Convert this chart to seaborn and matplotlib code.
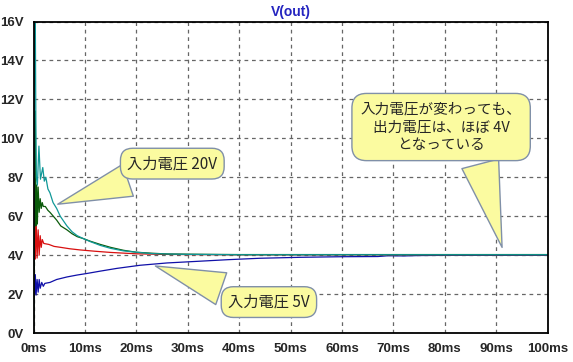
import matplotlib
matplotlib.use('Agg')
import matplotlib.pyplot as plt
import pandas as pd
import seaborn as sns

# V(out) traces (time in ms, volts)
t_teal = [0, 0.2, 0.35, 0.45, 0.55, 0.75, 1.05, 1.35, 1.8, 2.1, 2.4, 2.8, 3.2, 3.8, 4.5,
          5.2, 6.5, 7.5, 8.5, 9.7, 11, 13, 15, 17.5, 20, 23, 26, 30, 35, 40, 50, 60,
          70, 80, 90, 100]
v_teal = [0, 16, 16, 11, 8.0, 7.6, 9.6, 7.9, 8.5, 7.8, 8.0, 7.4, 7.2, 6.7, 6.4,
          6.0, 5.5, 5.2, 5.0, 4.85, 4.7, 4.5, 4.35, 4.22, 4.15, 4.08, 4.06, 4.04, 4.03,
          4.02, 4.02, 4.02, 4.02, 4.02, 4.02, 4.02]

t_green = [0, 0.15, 0.35, 0.45, 0.6, 0.75, 0.9, 1.1, 1.3, 1.5, 1.7, 1.9, 2.3, 2.8, 3.2,
           4.5, 5.3, 6.5, 7.5, 8.5, 9.7, 11, 13, 15, 17.5, 20, 23, 26, 30, 40, 50, 60,
           70, 80, 90, 100]
v_green = [0, 4.0, 11.4, 5.5, 7.6, 5.6, 7.5, 6.2, 6.9, 6.4, 6.7, 6.5, 6.5, 6.3, 6.2,
           5.8, 5.5, 5.3, 5.1, 4.95, 4.85, 4.72, 4.55, 4.4, 4.25, 4.15, 4.1, 4.06, 4.05,
           4.03, 4.03, 4.03, 4.03, 4.03, 4.03, 4.03]

t_red = [0, 0.2, 0.35, 0.5, 0.7, 0.9, 1.1, 1.3, 1.5, 1.7, 2.0, 3, 4, 5.3, 7, 9, 12,
         15, 17.8, 20, 25, 30, 40, 60, 80, 100]
v_red = [0, 8.0, 3.8, 5.9, 3.85, 5.3, 4.0, 5.0, 4.4, 4.8, 4.6, 4.55, 4.45, 4.4, 4.33,
         4.27, 4.2, 4.14, 4.1, 4.07, 4.04, 4.03, 4.02, 4.02, 4.02, 4.02]

t_blue = [0, 0.05, 0.2, 0.35, 0.5, 0.7, 0.9, 1.1, 1.3, 1.6, 1.9, 2.2, 3.2, 4.5, 6.5,
          8.5, 10.4, 13, 16.2, 20.7, 26, 32.4, 38, 44, 52, 60, 67, 69, 72, 75, 80, 100]
v_blue = [0.85, 3.8, 2.0, 3.0, 1.95, 2.75, 2.1, 2.75, 2.3, 2.6, 2.4, 2.55, 2.6, 2.75,
          2.88, 2.98, 3.06, 3.18, 3.32, 3.48, 3.6, 3.69, 3.77, 3.84, 3.89, 3.92, 3.93,
          3.97, 3.96, 3.98, 3.99, 3.99]

x_ticks = [0, 10, 20, 30, 40, 50, 60, 70, 80, 90, 100]
x_labels = [f'{t}ms' for t in x_ticks]
y_ticks = [0, 2, 4, 6, 8, 10, 12, 14, 16]
y_labels = [f'{v}V' for v in y_ticks]

palette = {'blue': '#1010a8', 'red': '#d81010', 'green': '#0a5a0a', 'teal': '#109898'}

frames = []
for name, tt, vv in [('blue', t_blue, v_blue), ('red', t_red, v_red),
                     ('green', t_green, v_green), ('teal', t_teal, v_teal)]:
	frames.append(pd.DataFrame({'time': tt, 'vout': vv, 'trace': name}))
df = pd.concat(frames, ignore_index=True)

sns.set_style('white')
plt.rcParams['font.family'] = ['Liberation Sans', 'Noto Sans CJK JP', 'DejaVu Sans']

fig = plt.figure(figsize=(5.73, 3.62), dpi=100)
ax = fig.add_axes([0.0585, 0.080, 0.897, 0.8606])

sns.lineplot(data=df, x='time', y='vout', hue='trace', palette=palette,
             hue_order=['blue', 'red', 'green', 'teal'], estimator=None, sort=False,
             linewidth=0.9, legend=False, ax=ax)

ax.set_xlim(0, 100)
ax.set_ylim(0, 16)
ax.set_xticks(x_ticks)
ax.set_xticklabels(x_labels, fontweight='bold', fontsize=9.5)
ax.set_yticks(y_ticks)
ax.set_yticklabels(y_labels, fontweight='bold', fontsize=9.5)
ax.set_xlabel('')
ax.set_ylabel('')
ax.tick_params(direction='out', length=5, width=1.2, color='black', pad=2)
ax.grid(True, linestyle=(0, (3, 3)), color='#666666', linewidth=0.9)
for spine in ax.spines.values():
	spine.set_color('black')
	spine.set_linewidth(1.3)
ax.set_title('V(out)', color='#2525c0', fontweight='bold', fontsize=10, pad=4)

box = dict(boxstyle='round,pad=0.45,rounding_size=0.8', fc='#fbfba0', ec='#8090a8', lw=1)
jp = ['Noto Sans CJK JP', 'DejaVu Sans']

ax.annotate('入力電圧 20V', xy=(4.2, 6.57), xytext=(27.0, 8.7), ha='center', va='center',
            fontsize=11, family=jp, bbox=box,
            arrowprops=dict(arrowstyle='wedge,tail_width=2.2,shrink_factor=0.5',
                            fc='#fbfba0', ec='#8090a8', lw=1, relpos=(0.3, 0.05)))
ax.annotate('入力電圧 5V', xy=(23.2, 3.49), xytext=(45.8, 1.59), ha='center', va='center',
            fontsize=11, family=jp, bbox=box,
            arrowprops=dict(arrowstyle='wedge,tail_width=2.2,shrink_factor=0.5',
                            fc='#fbfba0', ec='#8090a8', lw=1, relpos=(0.15, 0.9)))
ax.annotate('入力電圧が変わっても、\n出力電圧は、ほぼ 4V\nとなっている', xy=(91.3, 4.26),
            xytext=(79.3, 10.58), ha='center', va='center', fontsize=10.5, family=jp,
            linespacing=1.35, bbox=dict(box, boxstyle='round,pad=0.6,rounding_size=1.0'),
            arrowprops=dict(arrowstyle='wedge,tail_width=2.6,shrink_factor=0.5',
                            fc='#fbfba0', ec='#8090a8', lw=1, relpos=(0.72, 0.05)))

fig.savefig('out.png', dpi=100)
